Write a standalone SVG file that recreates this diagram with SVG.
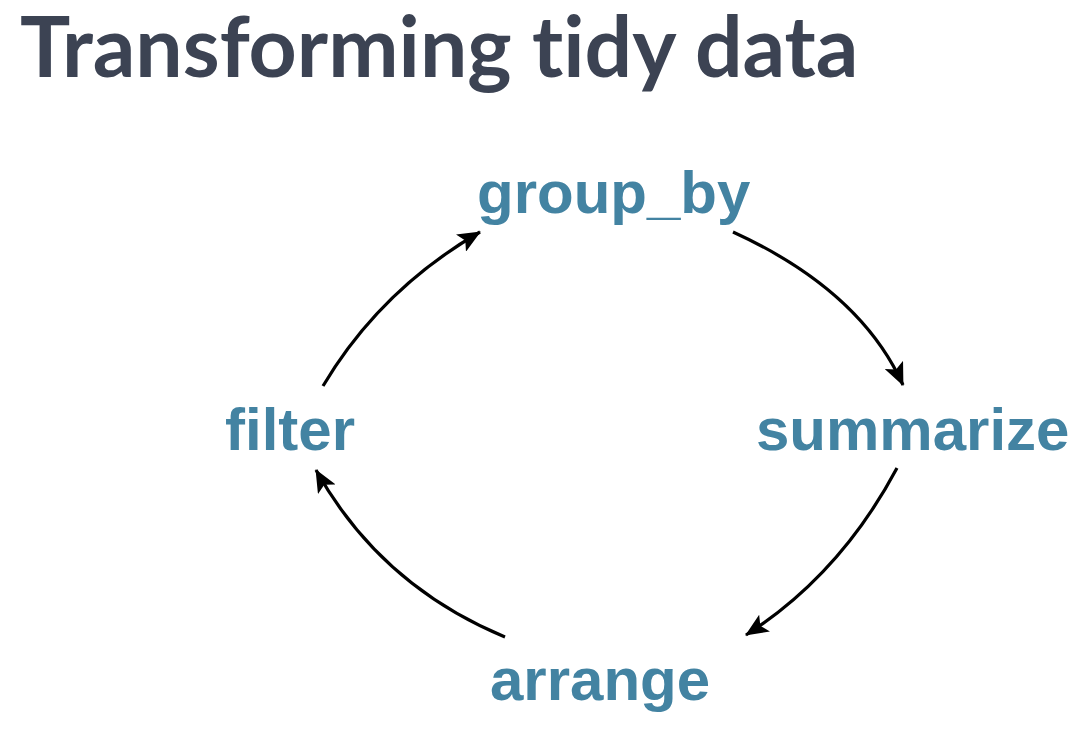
<svg xmlns="http://www.w3.org/2000/svg" width="1088" height="734" viewBox="0 0 1088 734">
<style>
.lbl{font-family:"Liberation Sans",Arial,sans-serif;font-weight:bold;font-size:60px;fill:#4383a2}
.title{font-family:Lato,"Liberation Sans",sans-serif;font-weight:bold;font-size:84px;fill:#3c4353;font-variant-ligatures:none}
.c{fill:none;stroke:#000;stroke-width:3.2}
</style>
<defs>
<marker id="ah" markerWidth="24" markerHeight="20" refX="22" refY="10" orient="auto" markerUnits="userSpaceOnUse" viewBox="0 0 24 20">
<path d="M0,0 L23,10 L0,20 L5,10 Z" fill="#000"/>
</marker>
</defs>
<rect width="1088" height="734" fill="#fff"/>
<text class="title" x="20" y="77">Transforming tidy data</text>
<g id="connectors">
<path class="c" d="M323,386 Q380,290 480,232" marker-end="url(#ah)"/>
<path class="c" d="M733,232 Q860,290 903,385" marker-end="url(#ah)"/>
<path class="c" d="M897,468 Q840,575 746,635" marker-end="url(#ah)"/>
<path class="c" d="M505,637 Q380,585 316,470" marker-end="url(#ah)"/>
</g>
<g id="group_by"><text class="lbl" x="477" y="213">group_by</text></g>
<g id="summarize"><text class="lbl" x="756" y="450">summarize</text></g>
<g id="arrange"><text class="lbl" x="490" y="700">arrange</text></g>
<g id="filter"><text class="lbl" x="225" y="450">filter</text></g>
</svg>
